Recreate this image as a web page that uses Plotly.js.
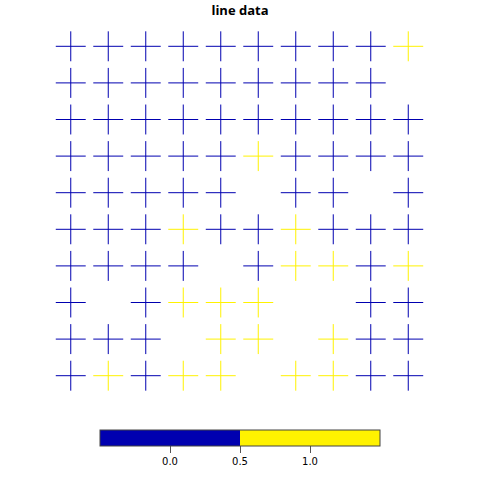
<!DOCTYPE html>
<html>
<head>
<meta charset="utf-8">
<script src="https://cdn.plot.ly/plotly-3.0.1.min.js"></script>
<style>html,body{margin:0;padding:0;background:#fff;}#chart{width:480px;height:480px;}</style>
</head>
<body>
<div id="chart"></div>
<script>
// 10x10 matrix, row 0 = top row. 0 = blue, 1 = yellow, null = missing
var rowLabels = [0,1,2,3,4,5,6,7,8,9];
var colLabels = [0,1,2,3,4,5,6,7,8,9];
var row0 = [0,0,0,0,0,0,0,0,0,1];
var row1 = [0,0,0,0,0,0,0,0,0,null];
var row2 = [0,0,0,0,0,0,0,0,0,0];
var row3 = [0,0,0,0,0,1,0,0,0,0];
var row4 = [0,0,0,0,0,null,0,0,null,0];
var row5 = [0,0,0,1,0,0,1,0,0,0];
var row6 = [0,0,0,0,null,0,1,1,0,1];
var row7 = [0,null,0,1,1,1,null,null,0,0];
var row8 = [0,0,0,null,1,1,null,1,0,0];
var row9 = [0,1,0,1,1,null,1,1,0,0];
var matrix = [row0,row1,row2,row3,row4,row5,row6,row7,row8,row9];
var tickVals = [0, 0.5, 1];
var tickText = ['0.0', '0.5', '1.0'];

var xs = [], ys = [], cs = [];
for (var r = 0; r < matrix.length; r++) {
  for (var c = 0; c < matrix[r].length; c++) {
    var v = matrix[r][c];
    if (v === null) continue;
    xs.push(colLabels[c]); ys.push(rowLabels[r]); cs.push(v);
  }
}

var scale = [[0,'#0000B0'],[0.5,'#0000B0'],[0.5,'#FFF200'],[1,'#FFF200']];

var trace = {
  type: 'scatter', mode: 'markers', x: xs, y: ys,
  hoverinfo: 'none',
  marker: {
    symbol: 'cross-thin', size: 21.4,
    color: cs, cmin: -0.5, cmax: 1.5,
    colorscale: scale,
    line: {width: 1, color: cs, cmin: -0.5, cmax: 1.5, colorscale: scale},
    showscale: true,
    colorbar: {
      orientation: 'h', lenmode: 'pixels', len: 280, thickness: 16,
      x: 0.5 + 0.5/375, xanchor: 'center', y: -0.0987, yanchor: 'top',
      xpad: 0, ypad: 0,
      outlinecolor: '#444', outlinewidth: 1,
      tickmode: 'array', tickvals: tickVals, ticktext: tickText,
      ticks: 'outside', ticklen: 7, tickcolor: '#555', tickwidth: 1,
      tickfont: {family: 'DejaVu Sans', size: 10, color: '#000'}
    }
  }
};

var layout = {
  width: 480, height: 480,
  margin: {l: 52, r: 53, t: 28, b: 77},
  paper_bgcolor: '#fff', plot_bgcolor: '#fff',
  showlegend: false,
  title: {text: '<b>line data</b>', x: 0.5, xanchor: 'center', yref: 'container', y: 0.978, yanchor: 'middle',
          font: {family: 'Open Sans', size: 13, color: '#000'}},
  xaxis: {range: [-0.5, 9.5], visible: false, fixedrange: true},
  yaxis: {range: [9.5, -0.5], visible: false, fixedrange: true}
};

Plotly.newPlot('chart', [trace], layout, {displayModeBar: false, staticPlot: true});
</script>
</body>
</html>
